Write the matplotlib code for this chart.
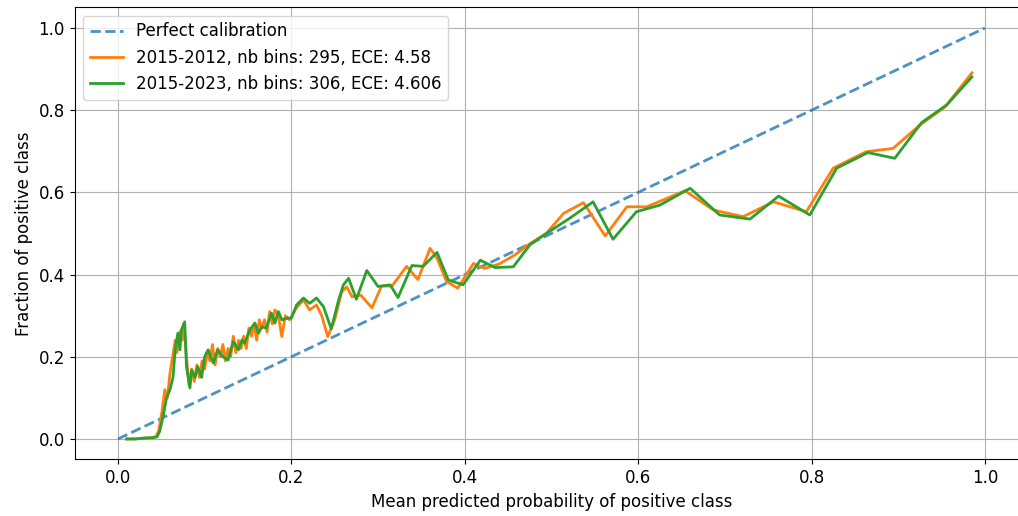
import matplotlib
matplotlib.use('Agg')
import matplotlib.pyplot as plt

plt.rcParams['font.size'] = 12

# calibration curve, 2015-2012
x_a = [0.010, 0.020, 0.030, 0.040, 0.044, 0.047, 0.051, 0.054, 0.057, 0.060,
       0.063, 0.066, 0.068, 0.071, 0.074, 0.076, 0.079, 0.082, 0.085, 0.088,
       0.091, 0.094, 0.097, 0.100, 0.103, 0.106, 0.109, 0.112, 0.115, 0.118,
       0.121, 0.124, 0.127, 0.130, 0.133, 0.136, 0.139, 0.142, 0.145, 0.148,
       0.151, 0.154, 0.157, 0.160, 0.163, 0.166, 0.169, 0.172, 0.175, 0.178,
       0.181, 0.185, 0.189, 0.193, 0.198, 0.206, 0.214, 0.221, 0.229, 0.235,
       0.242, 0.250, 0.258, 0.264, 0.270, 0.280, 0.293, 0.304, 0.316, 0.333,
       0.346, 0.360, 0.368, 0.379, 0.392, 0.410, 0.423, 0.440, 0.458, 0.475,
       0.494, 0.514, 0.537, 0.562, 0.587, 0.610, 0.654, 0.687, 0.721, 0.756,
       0.794, 0.825, 0.863, 0.894, 0.925, 0.954, 0.985]
y_a = [0.000, 0.000, 0.002, 0.003, 0.006, 0.020, 0.070, 0.120, 0.100, 0.160,
       0.200, 0.240, 0.210, 0.260, 0.240, 0.280, 0.200, 0.130, 0.170, 0.140,
       0.180, 0.150, 0.190, 0.170, 0.210, 0.190, 0.230, 0.180, 0.220, 0.200,
       0.230, 0.190, 0.220, 0.200, 0.250, 0.210, 0.240, 0.220, 0.250, 0.220,
       0.270, 0.250, 0.280, 0.240, 0.290, 0.270, 0.290, 0.260, 0.310, 0.280,
       0.314, 0.300, 0.249, 0.300, 0.290, 0.320, 0.338, 0.314, 0.326, 0.300,
       0.249, 0.290, 0.358, 0.370, 0.346, 0.350, 0.319, 0.372, 0.372, 0.420,
       0.388, 0.464, 0.440, 0.383, 0.367, 0.427, 0.415, 0.426, 0.448, 0.475,
       0.500, 0.549, 0.575, 0.494, 0.565, 0.565, 0.604, 0.557, 0.541, 0.577,
       0.553, 0.659, 0.699, 0.707, 0.764, 0.808, 0.891]

# calibration curve, 2015-2023
x_b = [0.010, 0.020, 0.030, 0.040, 0.045, 0.048, 0.052, 0.056, 0.060, 0.0635,
       0.066, 0.069, 0.0715, 0.073, 0.077, 0.079, 0.083, 0.085, 0.089, 0.092,
       0.0965, 0.100, 0.104, 0.110, 0.115, 0.121, 0.127, 0.133, 0.139, 0.143,
       0.146, 0.152, 0.158, 0.162, 0.166, 0.171, 0.177, 0.181, 0.185, 0.189,
       0.196, 0.200, 0.206, 0.214, 0.221, 0.229, 0.237, 0.246, 0.254, 0.260,
       0.266, 0.275, 0.287, 0.300, 0.314, 0.323, 0.339, 0.352, 0.368, 0.381,
       0.398, 0.418, 0.435, 0.456, 0.475, 0.494, 0.521, 0.548, 0.571, 0.598,
       0.625, 0.660, 0.694, 0.729, 0.762, 0.798, 0.829, 0.865, 0.896, 0.927,
       0.956, 0.985]
y_b = [0.000, 0.000, 0.002, 0.003, 0.005, 0.018, 0.054, 0.100, 0.120, 0.150,
       0.217, 0.257, 0.217, 0.265, 0.285, 0.176, 0.124, 0.168, 0.150, 0.176,
       0.150, 0.200, 0.217, 0.185, 0.217, 0.200, 0.192, 0.237, 0.217, 0.241,
       0.233, 0.265, 0.282, 0.257, 0.273, 0.270, 0.306, 0.282, 0.310, 0.290,
       0.294, 0.294, 0.326, 0.343, 0.330, 0.343, 0.322, 0.268, 0.334, 0.375,
       0.391, 0.340, 0.410, 0.371, 0.375, 0.344, 0.422, 0.420, 0.454, 0.387,
       0.375, 0.435, 0.417, 0.419, 0.472, 0.500, 0.537, 0.577, 0.486, 0.553,
       0.569, 0.610, 0.545, 0.535, 0.591, 0.545, 0.659, 0.697, 0.683, 0.770,
       0.813, 0.881]

label_a = '2015-2012, nb bins: 295, ECE: 4.58'
label_b = '2015-2023, nb bins: 306, ECE: 4.606'

fig = plt.figure(figsize=(10.18, 5.16), dpi=100)
ax = fig.add_axes([0.0733, 0.1095, 0.9368, 0.876])

ax.plot([0, 1], [0, 1], linestyle='--', color='tab:blue', alpha=0.8,
        linewidth=2, label='Perfect calibration')
ax.plot(x_a, y_a, color='tab:orange', linewidth=2, label=label_a)
ax.plot(x_b, y_b, color='tab:green', linewidth=2, label=label_b)

ax.set_xlim(-0.05, 1.05)
ax.set_ylim(-0.05, 1.05)
ax.set_xlabel('Mean predicted probability of positive class')
ax.set_ylabel('Fraction of positive class')
ax.grid(True)
ax.legend(loc='upper left')

fig.savefig('out.png', dpi=100)
